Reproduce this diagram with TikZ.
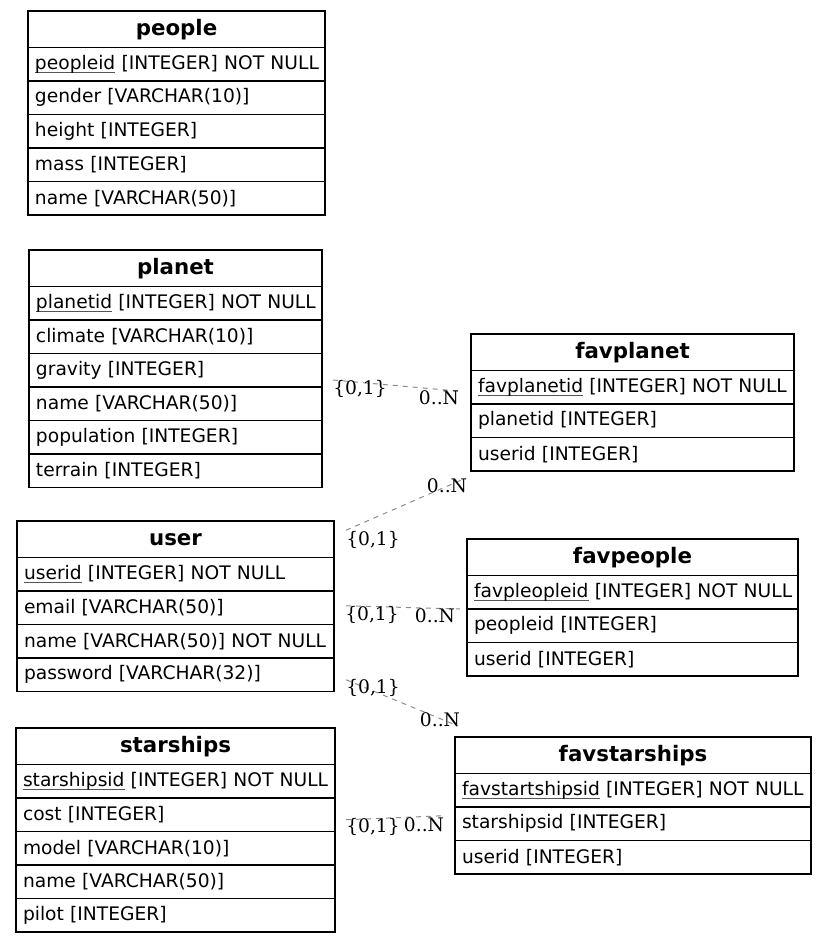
\documentclass[tikz,border=0pt]{standalone}
\usepackage{fontspec}
\setmainfont{DejaVu Sans}
\newfontfamily\lblfont{DejaVu Serif}
\usetikzlibrary{calc,positioning}

\definecolor{keyline}{HTML}{555555}
\definecolor{relcolor}{HTML}{8C8C8C}

% primary key row: underlined name followed by its type, kept on one line
\newsavebox{\pkeybox}
\newcommand{\pkey}[2]{\mbox{\sbox{\pkeybox}{#1}\rlap{\textcolor{keyline}{\rule[-2.6pt]{\wd\pkeybox}{0.7pt}}}\usebox{\pkeybox} #2}}

\tikzset{
  tbl/.style={draw=black, line width=0.8pt, outer sep=0pt, anchor=north west,
              inner ysep=0pt, inner xsep=5.25pt},
  hdr/.style={tbl, minimum height=27.375pt, align=center,
              font=\fontsize{16}{18}\selectfont\bfseries},
  fld/.style={tbl, minimum height=25.125pt, align=left,
              font=\fontsize{14}{16}\selectfont},
  rel/.style={draw=relcolor, line width=0.75pt, dash pattern=on 3.75pt off 3.75pt},
  lbl/.style={inner sep=0pt, font=\lblfont\fontsize{14}{16}\selectfont},
  peoplew/.style={text width=212.25pt},
  planetw/.style={text width=209.25pt},
  favplanetw/.style={text width=231.75pt},
  userw/.style={text width=227.25pt},
  favpeoplew/.style={text width=237.75pt},
  starshipsw/.style={text width=228.75pt},
  favstarshipsw/.style={text width=256.5pt},
}

\begin{document}
\begin{tikzpicture}[x=0.75pt,y=-0.75pt]
\useasboundingbox (0,0) rectangle (827,943);

% ---- people
\node[hdr, peoplew] (people-h) at (28,11) {people};
\node[fld, peoplew, below=0pt of people-h] (people-key) {\pkey{peopleid}{[INTEGER] NOT NULL}};
\node[fld, peoplew, below=0pt of people-key] (people-gender) {gender [VARCHAR(10)]};
\node[fld, peoplew, below=0pt of people-gender] (people-height) {height [INTEGER]};
\node[fld, peoplew, below=0pt of people-height] (people-mass) {mass [INTEGER]};
\node[fld, peoplew, below=0pt of people-mass] (people-name) {name [VARCHAR(50)]};

% ---- planet
\node[hdr, planetw] (planet-h) at (29,250) {planet};
\node[fld, planetw, below=0pt of planet-h] (planet-key) {\pkey{planetid}{[INTEGER] NOT NULL}};
\node[fld, planetw, below=0pt of planet-key] (planet-climate) {climate [VARCHAR(10)]};
\node[fld, planetw, below=0pt of planet-climate] (planet-gravity) {gravity [INTEGER]};
\node[fld, planetw, below=0pt of planet-gravity] (planet-name) {name [VARCHAR(50)]};
\node[fld, planetw, below=0pt of planet-name] (planet-population) {population [INTEGER]};
\node[fld, planetw, below=0pt of planet-population] (planet-terrain) {terrain [INTEGER]};

% ---- favplanet
\node[hdr, favplanetw] (favplanet-h) at (471,334) {favplanet};
\node[fld, favplanetw, below=0pt of favplanet-h] (favplanet-key) {\pkey{favplanetid}{[INTEGER] NOT NULL}};
\node[fld, favplanetw, below=0pt of favplanet-key] (favplanet-planetid) {planetid [INTEGER]};
\node[fld, favplanetw, below=0pt of favplanet-planetid] (favplanet-userid) {userid [INTEGER]};

% ---- user
\node[hdr, userw] (user-h) at (17,521) {user};
\node[fld, userw, below=0pt of user-h] (user-key) {\pkey{userid}{[INTEGER] NOT NULL}};
\node[fld, userw, below=0pt of user-key] (user-email) {email [VARCHAR(50)]};
\node[fld, userw, below=0pt of user-email] (user-name) {\mbox{name [VARCHAR(50)] NOT NULL}};
\node[fld, userw, below=0pt of user-name] (user-password) {password [VARCHAR(32)]};

% ---- favpeople
\node[hdr, favpeoplew] (favpeople-h) at (467,539) {favpeople};
\node[fld, favpeoplew, below=0pt of favpeople-h] (favpeople-key) {\pkey{favpleopleid}{[INTEGER] NOT NULL}};
\node[fld, favpeoplew, below=0pt of favpeople-key] (favpeople-peopleid) {peopleid [INTEGER]};
\node[fld, favpeoplew, below=0pt of favpeople-peopleid] (favpeople-userid) {userid [INTEGER]};

% ---- starships
\node[hdr, starshipsw] (starships-h) at (16,728) {starships};
\node[fld, starshipsw, below=0pt of starships-h] (starships-key) {\pkey{starshipsid}{[INTEGER] NOT NULL}};
\node[fld, starshipsw, below=0pt of starships-key] (starships-cost) {cost [INTEGER]};
\node[fld, starshipsw, below=0pt of starships-cost] (starships-model) {model [VARCHAR(10)]};
\node[fld, starshipsw, below=0pt of starships-model] (starships-name) {name [VARCHAR(50)]};
\node[fld, starshipsw, below=0pt of starships-name] (starships-pilot) {pilot [INTEGER]};

% ---- favstarships
\node[hdr, favstarshipsw] (favstarships-h) at (455,737) {favstarships};
\node[fld, favstarshipsw, below=0pt of favstarships-h] (favstarships-key) {\pkey{favstartshipsid}{[INTEGER] NOT NULL}};
\node[fld, favstarshipsw, below=0pt of favstarships-key] (favstarships-starshipsid) {starshipsid [INTEGER]};
\node[fld, favstarshipsw, below=0pt of favstarships-starshipsid] (favstarships-userid) {userid [INTEGER]};

% ---- relations
\draw[rel] ($(planet-gravity.south east)+(11,-7)$) -- ($(favplanet-key.west)+(-11,4)$);
\draw[rel] ($(user-h.east)+(12,-9)$) -- ($(favplanet-userid.south west)+(-5,7)$);
\draw[rel] ($(user-email.east)+(12,-2)$) -- ($(favpeople-key.south west)+(-7,0)$);
\draw[rel] ($(user-password.east)+(12,5)$) -- ($(favstarships-h.north west)+(3,-11)$);
\draw[rel] ($(starships-cost.east)+(11,5)$) -- ($(favstarships-starshipsid.west)+(-12,-8)$);

% ---- cardinalities
\node[lbl] (r1-one)  at (360,389) {\{0,1\}};
\node[lbl] (r1-many) at (439,398) {0..N};
\node[lbl] (r2-one)  at (373,540) {\{0,1\}};
\node[lbl] (r2-many) at (447,486) {0..N};
\node[lbl] (r3-one)  at (372,615) {\{0,1\}};
\node[lbl] (r3-many) at (435,616) {0..N};
\node[lbl] (r4-one)  at (373,688) {\{0,1\}};
\node[lbl] (r4-many) at (440,720) {0..N};
\node[lbl] (r5-one)  at (373,827) {\{0,1\}};
\node[lbl] (r5-many) at (424,825) {0..N};
\end{tikzpicture}
\end{document}
